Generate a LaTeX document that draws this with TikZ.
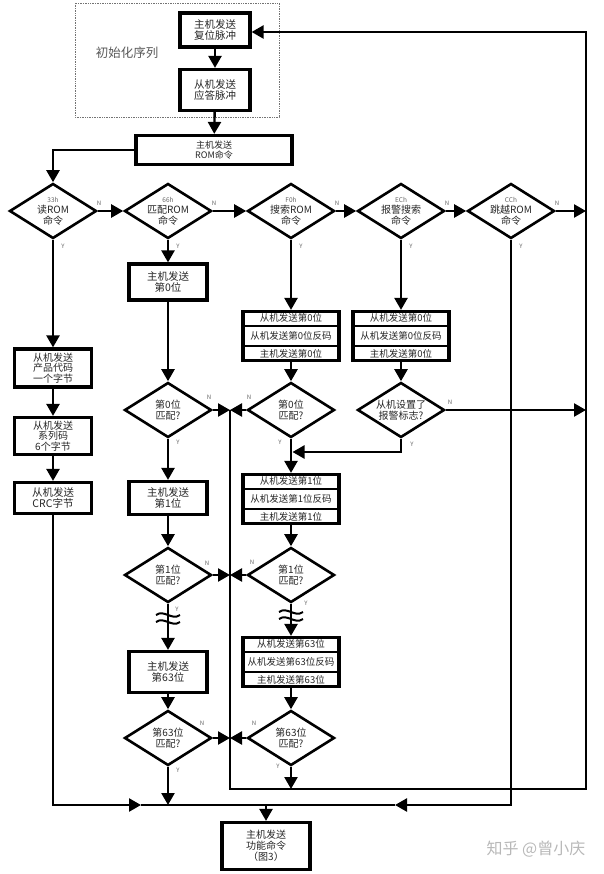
\documentclass[tikz,border=0pt]{standalone}
\usepackage{fontspec}
\setmainfont{Noto Sans CJK SC}
\usetikzlibrary{arrows.meta,shapes.geometric}
\newcommand\myfs[2]{\fontsize{#1pt}{#2pt}\selectfont}
\begin{document}
\begin{tikzpicture}[x=1pt,y=-1pt,line width=2.4pt,
  arr/.style={-{Triangle[length=12pt,width=13pt]}},
  box/.style={draw,rectangle,line width=3.2pt,inner sep=0pt,align=center,
    font=\myfs{10.5}{11.5},text=black!85},
  dia/.style={draw,diamond,line width=2.6pt,inner sep=0pt,
    minimum width=87pt,minimum height=55pt},
  txt/.style={inner sep=0pt,align=center,font=\myfs{10}{11},text=black!85},
  rowt/.style={inner sep=0pt,font=\myfs{9.5}{10},text=black!85},
  lbl/.style={inner sep=0pt,font=\myfs{6}{7},text=black!60},
  sq/.style={line width=2pt},
]
\useasboundingbox (0,0) rectangle (603,874);
\newcommand\hx[1]{{\myfs{6.5}{8}\color{black!60}#1}}
\newcommand\mytri[6]{%
  \node[box,minimum width=96pt,minimum height=49pt] (#1) at (#2,#3) {};
  \draw[line width=2.2pt] ([yshift=-16.3pt]#1.north west) -- ([yshift=-16.3pt]#1.north east);
  \draw[line width=2.2pt] ([yshift=16.3pt]#1.south west) -- ([yshift=16.3pt]#1.south east);
  \node[rowt] (#1a) at ([yshift=-8.2pt]#1.north) {#4};
  \node[rowt] (#1b) at (#1) {#5};
  \node[rowt] (#1c) at ([yshift=8.2pt]#1.south) {#6};
}
% initialisation frame
\draw[densely dotted,line width=0.7pt,black!55] (75,3) rectangle (279,117);
\node[inner sep=0pt,font=\myfs{12.5}{13},text=black!65] (init) at (127,53) {初始化序列};
\node[box,minimum width=70pt,minimum height=34pt] (rst) at (215,30) {主机发送\\复位脉冲};
\node[box,minimum width=70pt,minimum height=41pt] (ack) at (215,90) {从机发送\\应答脉冲};
\node[box,minimum width=156pt,minimum height=29pt,font=\myfs{9}{10}] (rom) at (214,150) {主机发送\\ROM命令};
% top diamonds
\node[dia] (d1) at (53,211) {};
\node[dia] (d2) at (168,211) {};
\node[dia] (d3) at (291,211) {};
\node[dia] (d4) at (401,211) {};
\node[dia] (d5) at (511,211) {};
\node[txt] (d1t) at (53,211) {\hx{33h}\\读ROM\\命令};
\node[txt] (d2t) at (168,211) {\hx{66h}\\匹配ROM\\命令};
\node[txt] (d3t) at (291,211) {\hx{F0h}\\搜索ROM\\命令};
\node[txt] (d4t) at (401,211) {\hx{ECh}\\报警搜索\\命令};
\node[txt] (d5t) at (511,211) {\hx{CCh}\\跳越ROM\\命令};
\foreach \n/\c in {1/53,2/168,3/291,4/401,5/511}{
  \node[lbl] (n\n) at (\c+46,203) {N};
  \node[lbl] (y\n) at (\c+10,246) {Y};
}
% column 1
\node[box,minimum width=77pt,minimum height=38pt,font=\myfs{10}{10.5}] (c1b1) at (53,368) {从机发送\\产品代码\\一个字节};
\node[box,minimum width=77pt,minimum height=37pt,font=\myfs{10}{10.5}] (c1b2) at (53,436) {从机发送\\系列码\\6个字节};
\node[box,minimum width=77pt,minimum height=31pt] (c1b3) at (53,498) {从机发送\\CRC字节};
% column 2
\node[box,minimum width=78pt,minimum height=36pt] (c2b0) at (168,282) {主机发送\\第0位};
\node[dia] (d20) at (168,410) {};
\node[txt] (d20t) at (168,410) {第0位\\匹配?};
\node[box,minimum width=78pt,minimum height=33pt] (c2b1) at (168,498) {主机发送\\第1位};
\node[dia] (d21) at (168,575) {};
\node[txt] (d21t) at (168,575) {第1位\\匹配?};
\node[box,minimum width=78pt,minimum height=41pt] (c2b63) at (168,672) {主机发送\\第63位};
\node[dia] (d263) at (168,738) {};
\node[txt] (d263t) at (168,738) {第63位\\匹配?};
% column 3
\mytri{t30}{291}{336}{从机发送第0位}{从机发送第0位反码}{主机发送第0位}
\node[dia] (d30) at (291,410) {};
\node[txt] (d30t) at (291,410) {第0位\\匹配?};
\mytri{t31}{291}{499}{从机发送第1位}{从机发送第1位反码}{主机发送第1位}
\node[dia] (d31) at (291,575) {};
\node[txt] (d31t) at (291,575) {第1位\\匹配?};
\mytri{t363}{291}{662}{从机发送第63位}{从机发送第63位反码}{主机发送第63位}
\node[dia] (d363) at (291,738) {};
\node[txt] (d363t) at (291,738) {第63位\\匹配?};
% column 4
\mytri{t40}{401}{336}{从机发送第0位}{从机发送第0位反码}{主机发送第0位}
\node[dia] (da) at (401,410) {};
\node[txt] (dat) at (401,410) {从机设置了\\报警标志?};
% final
\node[box,minimum width=88pt,minimum height=47pt,font=\myfs{10}{11}] (fin) at (266,846) {主机发送\\功能命令\\（图3）};
\node[inner sep=0pt,font=\myfs{16}{18},text=black!28] (wm) at (536,849) {知乎 @曾小庆};
% small labels
\node[lbl] (nl20) at (209,397) {N};
\node[lbl] (yl20) at (178,442) {Y};
\node[lbl] (nl30) at (249,397) {N};
\node[lbl] (yl30) at (280,442) {Y};
\node[lbl] (nla) at (450,402) {N};
\node[lbl] (yla) at (412,444) {Y};
\node[lbl] (nl21) at (207,563) {N};
\node[lbl] (yl21) at (177,609) {Y};
\node[lbl] (nl31) at (252,562) {N};
\node[lbl] (yl31) at (306,603) {Y};
\node[lbl] (nl263) at (202,723) {N};
\node[lbl] (yl263) at (178,770) {Y};
\node[lbl] (nl363) at (254,723) {N};
\node[lbl] (yl363) at (278,766) {Y};
% coordinates
\coordinate (m0) at (230,410);
\coordinate (m1) at (230,789);
\coordinate (r0) at (586,789);
\coordinate (r1) at (586,32);
\coordinate (ar1) at (141,805);
\coordinate (ar2) at (395,805);
\coordinate (ay) at (401,452);
% connectors top
\draw[arr] (rst) -- (ack);
\draw[arr] (ack) -- (rom);
\draw[arr] (rom.west) -| (d1.north);
\draw[arr] (d1.east) -- (d2.west);
\draw[arr] (d2.east) -- (d3.west);
\draw[arr] (d3.east) -- (d4.west);
\draw[arr] (d4.east) -- (d5.west);
\draw[arr] (d5.east) -- (d5.east -| r0);
% column 1
\draw[arr] (d1.south) -- (c1b1.north);
\draw[arr] (c1b1.south) -- (c1b2.north);
\draw[arr] (c1b2.south) -- (c1b3.north);
\draw[arr] (c1b3.south) |- (ar1);
\draw (ar1) -- (ar2);
\draw[arr] (d5.south) |- (ar2);
% column 2
\draw[arr] (d2.south) -- (c2b0.north);
\draw[arr] (c2b0.south) -- (d20.north);
\draw[arr] (d20.south) -- (c2b1.north);
\draw[arr] (c2b1.south) -- (d21.north);
\draw[arr] (d21.south) -- (c2b63.north);
\draw[arr] (c2b63.south) -- (d263.north);
\draw[arr] (d263.south) -- (d263.south |- ar1);
\draw[arr] (d20.east) -- (d20.east -| m0);
\draw[arr] (d21.east) -- (d21.east -| m0);
\draw[arr] (d263.east) -- (d263.east -| m0);
% column 3
\draw[arr] (d3.south) -- (t30.north);
\draw[arr] (t30.south) -- (d30.north);
\draw[arr] (d30.south) -- (t31.north);
\draw[arr] (t31.south) -- (d31.north);
\draw[arr] (d31.south) -- (t363.north);
\draw[arr] (t363.south) -- (d363.north);
\draw[arr] (d363.south) -- (d363.south |- m1);
\draw[arr] (d30.west) -- (d30.west -| m0);
\draw[arr] (d31.west) -- (d31.west -| m0);
\draw[arr] (d363.west) -- (d363.west -| m0);
% column 4
\draw[arr] (d4.south) -- (t40.north);
\draw[arr] (t40.south) -- (da.north);
\draw[arr] (da.east) -- (da.east -| r0);
\draw[arr] (da.south) |- ([xshift=1.5pt]d30.south |- ay);
% loop back
\draw[arr] (m0) -- (m1) -- (r0) -- (r1) -- (rst.east |- r1);
% final
\draw[arr] (ar1 -| fin.north) -- (fin.north);
% squiggles
\foreach \cx/\cy in {168/615,291/612}{
  \draw[sq] (\cx-12,\cy) .. controls (\cx-4,\cy-6) and (\cx+4,\cy+6) .. (\cx+12,\cy);
  \draw[sq] (\cx-12,\cy+7) .. controls (\cx-4,\cy+1) and (\cx+4,\cy+13) .. (\cx+12,\cy+7);
}
\end{tikzpicture}
\end{document}
